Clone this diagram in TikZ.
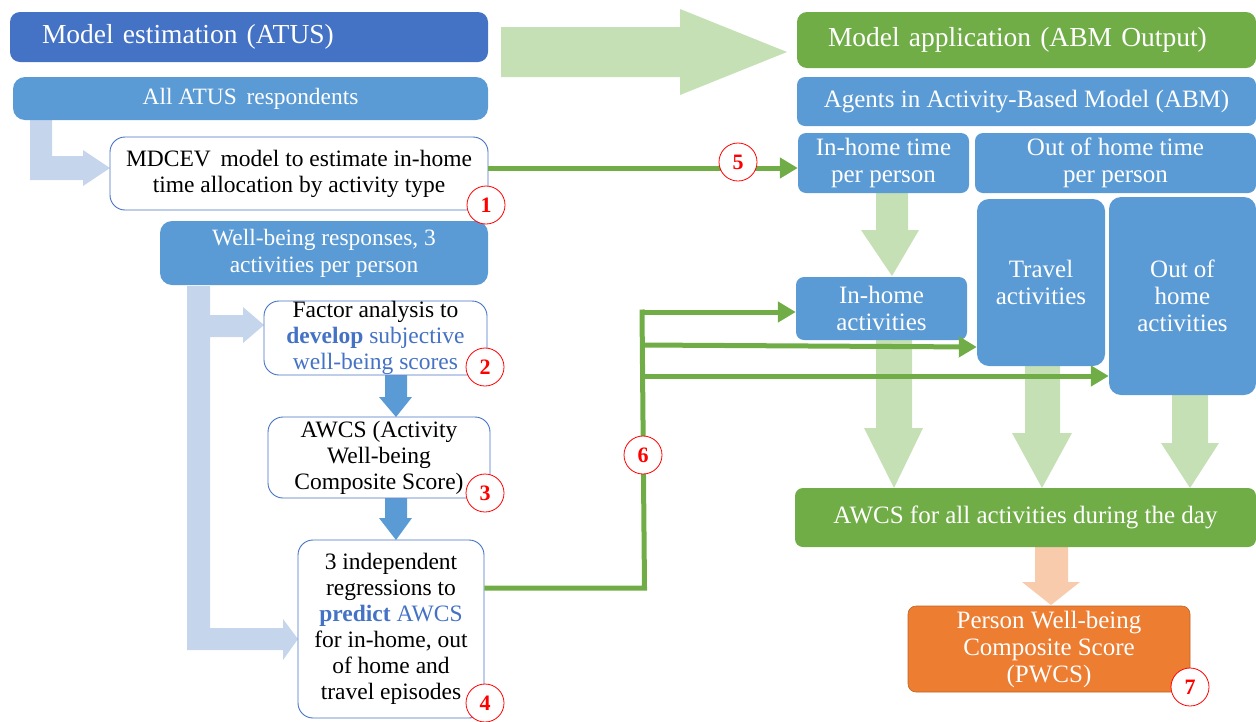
\documentclass[tikz,border=0pt]{standalone}
\usepackage{fontspec}
\setmainfont{Liberation Serif}
\usetikzlibrary{arrows.meta}
\definecolor{myblue}{HTML}{5B9BD5}
\definecolor{darkblue}{HTML}{4472C4}
\definecolor{mygreen}{HTML}{70AD47}
\definecolor{myorange}{HTML}{ED7D31}
\definecolor{lgreen}{HTML}{C5E0B4}
\definecolor{lblue}{HTML}{C5D5EB}
\definecolor{lorange}{HTML}{F8CBAD}
\newcommand{\fsz}[2]{\fontsize{#1}{#2}\selectfont}
\newcommand{\emb}[1]{\textcolor{darkblue}{#1}}
\begin{document}
\begin{tikzpicture}[x=1pt,y=-1pt,
  filledbox/.style={rounded corners=8pt, inner sep=0pt, align=center, text=white, font=\fsz{25}{27}},
  bluebox/.style={filledbox, fill=myblue},
  greenbox/.style={filledbox, fill=mygreen},
  leftblue/.style={bluebox, rounded corners=12pt, font=\fsz{23.4}{27}},
  whitebox/.style={draw=darkblue, line width=0.9pt, fill=white, rounded corners=15pt, inner sep=0pt, align=center, text=black, font=\fsz{23.5}{26}},
  headbox/.style={rounded corners=10pt, inner ysep=0pt, align=left, text=white, font=\fsz{27.5}{30}},
  badge/.style={circle, draw=red, line width=0.8pt, fill=white, minimum size=38pt, inner sep=0pt, text=red, font=\bfseries\fsz{22}{22}},
  gline/.style={draw=mygreen, line width=5pt, -{Triangle[length=18pt,width=20pt]}},
  glineplain/.style={draw=mygreen, line width=5pt},
]
\useasboundingbox (0,0) rectangle (1256,721);

% ---- block arrows (shapes) ----
% big arrow estimation -> application
\fill[lgreen] (501,27) -- (680,27) -- (680,9) -- (787,52) -- (680,95) -- (680,77) -- (501,77) -- cycle;
% ATUS -> MDCEV
\fill[lblue] (30,120) -- (52,120) -- (52,156) -- (83,156) -- (83,150) -- (110,168) -- (83,186) -- (83,180) -- (30,180) -- cycle;
% Well-being -> factor and regressions
\fill[lblue] (187,286) -- (210,286) -- (210,315) -- (243,315) -- (243,307) -- (264,325) -- (243,343) -- (243,337) -- (210,337) -- (210,628) -- (283,628) -- (283,619) -- (298,639) -- (283,660) -- (283,650) -- (187,650) -- cycle;
% factor -> awcs, awcs -> regressions
\fill[myblue] (385,374) -- (407,374) -- (407,397) -- (412,397) -- (396,417) -- (379,397) -- (385,397) -- cycle;
\fill[myblue] (385,497) -- (407,497) -- (407,518) -- (412,518) -- (396,540) -- (379,518) -- (385,518) -- cycle;
% right side down arrows
\fill[lgreen] (876,193) -- (908,193) -- (908,230) -- (919,230) -- (892,276) -- (861,230) -- (876,230) -- cycle;
\fill[lgreen] (876,340) -- (912,340) -- (912,428) -- (923,428) -- (894,488) -- (864,428) -- (876,428) -- cycle;
\fill[lgreen] (1025,366) -- (1060,366) -- (1060,433) -- (1072,433) -- (1042,488) -- (1012,433) -- (1025,433) -- cycle;
\fill[lgreen] (1172,395) -- (1208,395) -- (1208,443) -- (1219,443) -- (1190,488) -- (1161,443) -- (1172,443) -- cycle;
\fill[lorange] (1035,547) -- (1068,547) -- (1068,582) -- (1080,582) -- (1051,605) -- (1022,582) -- (1035,582) -- cycle;

% ---- left column ----
\node[headbox, fill=darkblue, minimum width=478pt, minimum height=50pt, inner xsep=32pt, text width=414pt] (est) at (249,37) {Model estimation (ATUS)};
\node[leftblue, minimum width=475pt, minimum height=43pt] (atus) at (250.5,98.5) {All ATUS\, respondents};
\node[whitebox, minimum width=378pt, minimum height=73pt] (mdcev) at (299,173.5) {MDCEV\, model to estimate in-home\\time allocation by activity type};
\node[leftblue, minimum width=328pt, minimum height=64pt] (wb) at (324,253) {Well-being responses, 3\\activities per person};
\node[whitebox, minimum width=223pt, minimum height=74pt] (factor) at (375.5,338) {Factor analysis to\\\emb{\textbf{develop} subjective}\\\emb{well-being scores}};
\node[whitebox, minimum width=222pt, minimum height=81pt] (awcs) at (379,457.5) {AWCS (Activity\\Well-being\\Composite Score)};
\node[whitebox, minimum width=186pt, minimum height=178pt] (reg) at (391,629) {3 independent\\regressions to\\\emb{\textbf{predict} AWCS}\\for in-home, out\\of home and\\travel episodes};

% ---- right column ----
\node[headbox, fill=mygreen, minimum width=459pt, minimum height=56pt, inner xsep=31pt, text width=397pt] (app) at (1026.5,40) {Model application (ABM Output)};
\node[bluebox, minimum width=459pt, minimum height=49pt] (agents) at (1026.5,101.5) {Agents in Activity-Based Model (ABM)};
\node[bluebox, minimum width=171pt, minimum height=60pt] (iht) at (883.5,163) {In-home time\\per person};
\node[bluebox, minimum width=281pt, minimum height=60pt] (oht) at (1115.5,163) {Out of home time\\per person};
\node[bluebox, minimum width=171pt, minimum height=63pt] (iha) at (881.5,308.5) {In-home\\activities};
\node[bluebox, rounded corners=12pt, minimum width=128pt, minimum height=167pt] (tra) at (1041,282.5) {Travel\\activities};
\node[bluebox, rounded corners=12pt, minimum width=147pt, minimum height=198pt] (oha) at (1182.5,296) {Out of\\home\\activities};
\node[greenbox, minimum width=461pt, minimum height=59pt] (awcsall) at (1025.5,517.5) {AWCS for all activities during the day};
\node[filledbox, fill=myorange, draw=myorange!80!black, line width=0.6pt, minimum width=282pt, minimum height=86pt, font=\fsz{25}{27}] (pwcs) at (1049,649) {Person Well-being\\Composite Score\\(PWCS)};

% ---- green connectors ----
\coordinate (j0) at (642,588);
\coordinate (j1) at (642,312);
\coordinate (j2) at (642,345);
\coordinate (j3) at (642,376);
\draw[gline] (mdcev.east |- 0,168) -- (iht.west |- 0,168);
\draw[glineplain] (reg.east |- j0) -- ([xshift=2.5pt]j0) -- (j0 |- 0,309.5);
\draw[gline] (j1) -- (iha.west |- j1);
\draw[gline] (j2) -- ([yshift=-2pt]tra.west |- j2);
\draw[gline] (j3) -- (oha.west |- j3);

% ---- badges ----
\node[badge] (b1) at (486,205) {1};
\node[badge] (b2) at (485,367) {2};
\node[badge] (b3) at (485,493) {3};
\node[badge] (b4) at (485,703) {4};
\node[badge] (b5) at (738,162) {5};
\node[badge] (b6) at (643,455) {6};
\node[badge] (b7) at (1190,687) {7};
\end{tikzpicture}
\end{document}
